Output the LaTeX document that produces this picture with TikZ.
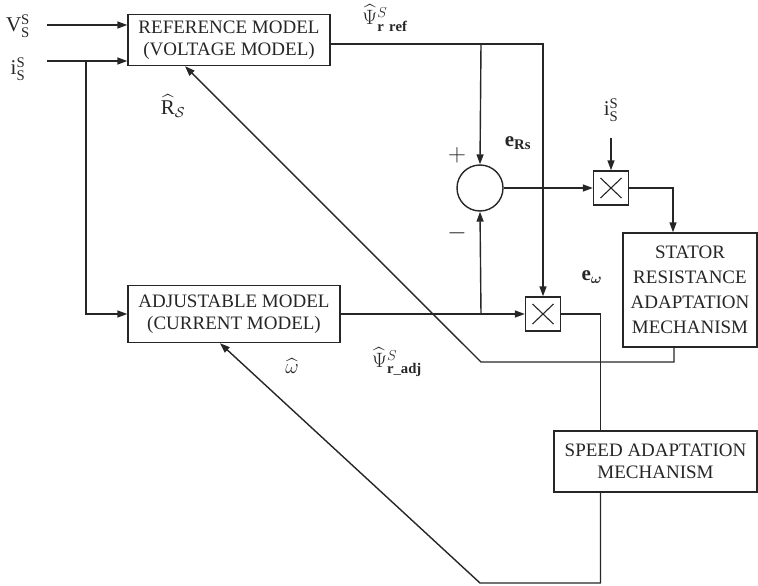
\documentclass[tikz,border=0pt]{standalone}
\usepackage{fontspec}
\usepackage{amsmath}
\setmainfont{Liberation Serif}
\usetikzlibrary{arrows.meta,positioning}
\definecolor{linecol}{HTML}{262626}

\begin{document}
\begin{tikzpicture}[x=1pt, y=-1pt,
  every node/.style={text=linecol},
  block/.style={draw=linecol, line width=1.4pt, align=center, inner sep=2pt,
                font=\fontsize{19}{22}\selectfont},
  sumj/.style={draw=linecol, line width=1.4pt, circle, minimum size=46pt, inner sep=0pt},
  mulbox/.style={draw=linecol, line width=1.4pt, minimum width=35pt, minimum height=34pt,
                 inner sep=0pt,
                 path picture={\draw[linecol, line width=1.1pt]
                   ([shift={(7pt,7pt)}]path picture bounding box.south west) --
                   ([shift={(-7pt,-7pt)}]path picture bounding box.north east)
                   ([shift={(7pt,-7pt)}]path picture bounding box.north west) --
                   ([shift={(-7pt,7pt)}]path picture bounding box.south east);}},
  sig/.style={font=\fontsize{21}{24}\selectfont, inner sep=1pt},
  wire/.style={draw=linecol, line width=1.4pt},
  arr/.style={wire, -{Triangle[length=10pt, width=7pt]}},
]
  \useasboundingbox (0,0) rectangle (758,586);

  % ── Models ──────────────────────
  \node[block, minimum width=202pt, minimum height=51pt] (ref) at (229,40)
        {REFERENCE MODEL\\(VOLTAGE MODEL)};
  \node[block, minimum width=212pt, minimum height=57pt] (adj) at (234,314)
        {ADJUSTABLE MODEL\\(CURRENT MODEL)};

  % ── Adaptation blocks ───────────
  \node[block, minimum width=134pt, minimum height=114pt,
        font=\fontsize{19}{25}\selectfont] (stator) at (690,290)
        {STATOR\\RESISTANCE\\ADAPTATION\\MECHANISM};
  \node[block, minimum width=203pt, minimum height=61pt] (speed) at (655.5,461.5)
        {SPEED ADAPTATION\\MECHANISM};

  % ── Sum and products ────────────
  \node[sumj] (sum) at (480,188) {};
  \node[mulbox] (mul1) at (543,314) {};
  \node[mulbox] (mul2) at (611,188) {};

  % ── Signals ─────────────────────
  \node[sig] (vs) at (18,26) {$\mathrm{V}_{\mathrm{S}}^{\mathrm{S}}$};
  \node[sig] (is) at (18,69) {$\mathrm{i}_{\mathrm{S}}^{\mathrm{S}}$};
  \node[sig] (is2) at (611,110) {$\mathrm{i}_{\mathrm{S}}^{\mathrm{S}}$};
  \node[sig] (psiref) at (385,18) {$\widehat{\Psi}^{S}_{\mathbf{r\ ref}}$};
  \node[sig] (psiadj) at (397,362) {$\widehat{\Psi}^{S}_{\mathbf{r\_adj}}$};
  \node[sig] (rs) at (173,106) {$\widehat{\mathrm{R}}_{\mathcal{S}}$};
  \node[sig] (wh) at (292,366) {$\widehat{\omega}$};
  \node[sig] (erS) at (518,143) {$\mathbf{e}_{\mathbf{Rs}}$};
  \node[sig] (ew) at (592,277) {$\mathbf{e}_{\boldsymbol{\omega}}$};
  \node[sig, font=\fontsize{28}{28}\selectfont] (plus) at (457,155) {$+$};
  \node[sig, font=\fontsize{28}{28}\selectfont] (minus) at (457,233) {$-$};

  \coordinate (vsin) at (47,25);
  \coordinate (isin) at (47,61);
  \coordinate (isin2) at (611,138);
  \coordinate (jn) at (86,61);
  \coordinate (br1) at (481,44);
  \coordinate (br2) at (481,314);
  \coordinate (kn1) at (481,362);
  \coordinate (kn2) at (480,583);

  % ── Arrows ──────────────────────
  \draw[arr] (vsin) -- (ref.west |- vsin);
  \draw[arr] (isin) -- (ref.west |- isin);
  \draw[arr] (jn) |- (adj.west);
  \draw[arr] (ref.east |- br1) -| (mul1.north);
  \draw[arr] (br1) -- (sum.north);
  \draw[arr] (adj.east) -- (mul1.west);
  \draw[arr] (br2) -- (sum.south);
  \draw[arr] (sum.east) -- (mul2.west);
  \draw[arr] (isin2) -- (mul2.north);
  \draw[arr] (mul2.east) -| ([xshift=-17pt]stator.north);
  \draw[arr] ([xshift=-16pt]stator.south) |- (kn1) -- ([xshift=-44pt]ref.south);
  \draw[wire] (mul1.east) -| ([xshift=-55pt]speed.north);
  \draw[arr] ([xshift=-55pt]speed.south) |- (kn2) -- ([xshift=-14pt]adj.south);
\end{tikzpicture}
\end{document}
